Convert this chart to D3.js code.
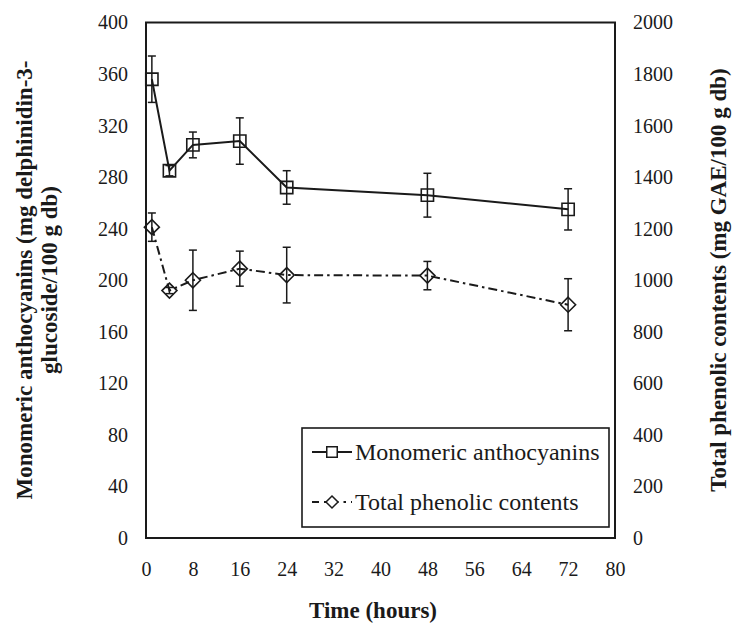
<!DOCTYPE html>
<html>
<head>
<meta charset="utf-8">
<script src="https://cdn.jsdelivr.net/npm/d3@7"></script>
<style>
  body { margin: 0; background: #fff; }
  svg text { font-family: "Liberation Serif", "Times New Roman", serif; }
</style>
</head>
<body>
<div id="chart"></div>
<script>
// values
const hours = [1, 4, 8, 16, 24, 48, 72]
const anthocyanins = [356, 285, 305, 308, 272, 266, 255]
const anthocyaninsErr = [18, 4, 10, 18, 13, 17, 16]
const phenolics = [1206, 960, 1000, 1045, 1020, 1018, 905]
const phenolicsErr = [55, 12, 117, 68, 108, 55, 101]

const xTicks = [0, 8, 16, 24, 32, 40, 48, 56, 64, 72, 80]
const leftTicks = [0, 40, 80, 120, 160, 200, 240, 280, 320, 360, 400]
const rightTicks = [0, 200, 400, 600, 800, 1000, 1200, 1400, 1600, 1800, 2000]

const W = 734, H = 628
const MARGIN = {TOP: 22.5, BOTTOM: 90, LEFT: 146, RIGHT: 119}
const WIDTH = W - MARGIN.LEFT - MARGIN.RIGHT
const HEIGHT = H - MARGIN.TOP - MARGIN.BOTTOM
const INK = "#1a1a1a"
const SERIF = '"Liberation Serif", "Times New Roman", serif'

const svg = d3.select("#chart").append("svg")
    .attr("width", W)
    .attr("height", H)

const g = svg.append("g")
    .attr("transform", `translate(${MARGIN.LEFT}, ${MARGIN.TOP})`)

const x = d3.scaleLinear().domain([0, 80]).range([0, WIDTH])
const yL = d3.scaleLinear().domain([0, 400]).range([HEIGHT, 0])
const yR = d3.scaleLinear().domain([0, 2000]).range([HEIGHT, 0])

// axes: labels only, no tick marks
const styleAxis = sel => {
    sel.attr("font-family", null).attr("font-size", null)
    sel.select(".domain").remove()
    sel.selectAll("text")
        .style("font-family", SERIF)
        .style("font-size", "20px")
        .attr("fill", INK)
}

g.append("g")
    .call(d3.axisLeft(yL).tickValues(leftTicks).tickFormat(d3.format("d")).tickSize(0).tickPadding(18))
    .call(styleAxis)

g.append("g")
    .attr("transform", `translate(${WIDTH}, 0)`)
    .call(d3.axisRight(yR).tickValues(rightTicks).tickFormat(d3.format("d")).tickSize(0).tickPadding(18))
    .call(styleAxis)

g.append("g")
    .attr("transform", `translate(0, ${HEIGHT})`)
    .call(d3.axisBottom(x).tickValues(xTicks).tickFormat(d3.format("d")).tickSize(0).tickPadding(24))
    .call(styleAxis)

// plot frame
g.append("rect")
    .attr("width", WIDTH)
    .attr("height", HEIGHT)
    .attr("fill", "none")
    .attr("stroke", INK)
    .attr("stroke-width", 2)

const anthoData = hours.map((h, i) => ({h, v: anthocyanins[i], e: anthocyaninsErr[i]}))
const phenData = hours.map((h, i) => ({h, v: phenolics[i], e: phenolicsErr[i]}))

const DASHDOT = "9,4,2.5,4"

// lines
g.append("path")
    .datum(anthoData)
    .attr("fill", "none")
    .attr("stroke", INK)
    .attr("stroke-width", 2)
    .attr("d", d3.line().x(d => x(d.h)).y(d => yL(d.v)))

g.append("path")
    .datum(phenData)
    .attr("fill", "none")
    .attr("stroke", INK)
    .attr("stroke-width", 2)
    .attr("stroke-dasharray", DASHDOT)
    .attr("d", d3.line().x(d => x(d.h)).y(d => yR(d.v)))

// error bars
const errorBars = (data, y) => {
    const eb = g.append("g")
        .attr("stroke", INK)
        .attr("stroke-width", 1.5)
        .selectAll("g")
        .data(data)
        .join("g")
    eb.append("line")
        .attr("x1", d => x(d.h)).attr("x2", d => x(d.h))
        .attr("y1", d => y(d.v - d.e)).attr("y2", d => y(d.v + d.e))
    eb.append("line")
        .attr("x1", d => x(d.h) - 4).attr("x2", d => x(d.h) + 4)
        .attr("y1", d => y(d.v + d.e)).attr("y2", d => y(d.v + d.e))
    eb.append("line")
        .attr("x1", d => x(d.h) - 4).attr("x2", d => x(d.h) + 4)
        .attr("y1", d => y(d.v - d.e)).attr("y2", d => y(d.v - d.e))
}
errorBars(anthoData, yL)
errorBars(phenData, yR)

// markers
const square = d3.symbol().type(d3.symbolSquare).size(150)
const diamond = "M0,-7.5L7.5,0L0,7.5L-7.5,0Z"

g.append("g").selectAll("path")
    .data(anthoData)
    .join("path")
    .attr("transform", d => `translate(${x(d.h)}, ${yL(d.v)})`)
    .attr("d", square)
    .attr("fill", "none")
    .attr("stroke", INK)
    .attr("stroke-width", 1.6)

g.append("g").selectAll("path")
    .data(phenData)
    .join("path")
    .attr("transform", d => `translate(${x(d.h)}, ${yR(d.v)})`)
    .attr("d", diamond)
    .attr("fill", "none")
    .attr("stroke", INK)
    .attr("stroke-width", 1.6)

// legend
const legend = svg.append("g").attr("transform", "translate(302, 428)")
legend.append("rect")
    .attr("width", 307)
    .attr("height", 99)
    .attr("fill", "#fff")
    .attr("stroke", INK)
    .attr("stroke-width", 1.6)

const rows = legend.selectAll("g.row")
    .data(["Monomeric anthocyanins", "Total phenolic contents"])
    .join("g")
    .attr("class", "row")
    .attr("transform", (d, i) => `translate(0, ${24 + i * 50})`)

rows.append("line")
    .attr("x1", 10).attr("x2", 50)
    .attr("stroke", INK)
    .attr("stroke-width", 2)
    .attr("stroke-dasharray", (d, i) => i ? "7,5,2.5,5" : null)

rows.append("path")
    .attr("transform", "translate(30, 0)")
    .attr("d", (d, i) => i ? "M0,-6L6,0L0,6L-6,0Z" : d3.symbol().type(d3.symbolSquare).size(110)())
    .attr("fill", "#fff")
    .attr("stroke", INK)
    .attr("stroke-width", 1.5)

rows.append("text")
    .attr("x", 53)
    .attr("dy", "0.35em")
    .style("font-family", SERIF)
    .style("font-size", "24px")
    .attr("fill", INK)
    .text(d => d)

// axis titles
svg.append("text")
    .attr("x", 373)
    .attr("y", 618)
    .attr("text-anchor", "middle")
    .style("font-family", SERIF)
    .style("font-size", "23px")
    .attr("font-weight", "bold")
    .attr("fill", INK)
    .text("Time (hours)")

const leftTitle = svg.append("text")
    .attr("transform", "rotate(-90)")
    .attr("text-anchor", "middle")
    .style("font-family", SERIF)
    .style("font-size", "23px")
    .attr("font-weight", "bold")
    .attr("fill", INK)
leftTitle.append("tspan")
    .attr("x", -280).attr("y", 32)
    .text("Monomeric anthocyanins (mg delphinidin-3-")
leftTitle.append("tspan")
    .attr("x", -280).attr("y", 57)
    .text("glucoside/100 g db)")

svg.append("text")
    .attr("transform", "rotate(-90)")
    .attr("x", -280)
    .attr("y", 726)
    .attr("text-anchor", "middle")
    .style("font-family", SERIF)
    .style("font-size", "23px")
    .attr("font-weight", "bold")
    .attr("fill", INK)
    .text("Total phenolic contents (mg GAE/100 g db)")
</script>
</body>
</html>
